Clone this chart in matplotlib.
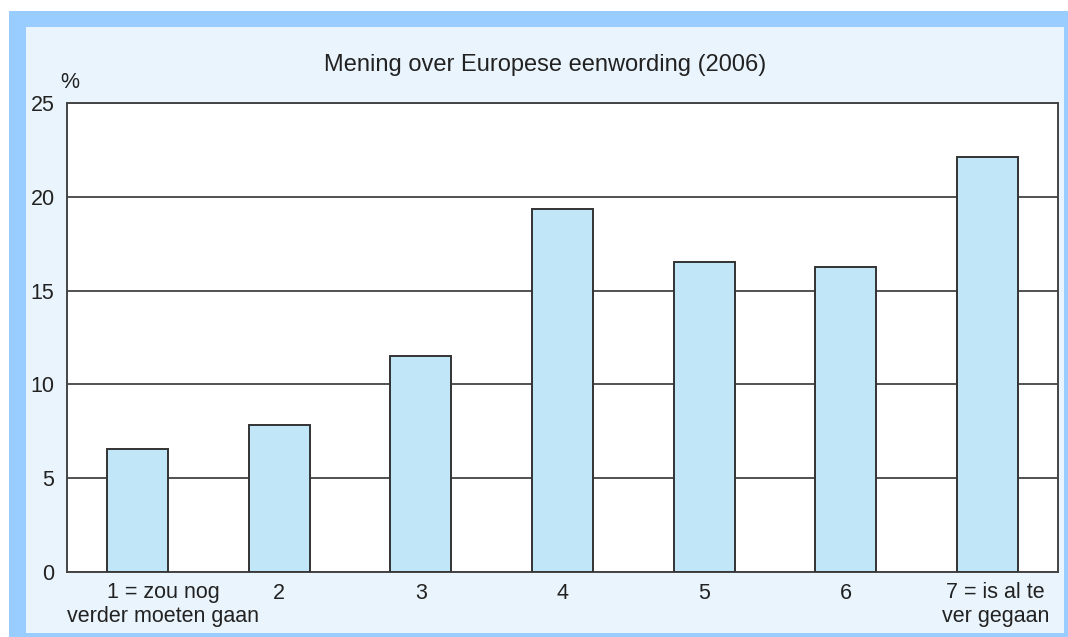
import numpy as np
import matplotlib
matplotlib.use("Agg")
import matplotlib.pyplot as plt
from matplotlib.patches import Rectangle

plt.rcParams['font.family'] = ['Liberation Sans', 'DejaVu Sans']

title = "Mening over Europese eenwording (2006)"
categories = ["1 = zou nog\nverder moeten gaan", "2", "3", "4", "5", "6", "7 = is al te\nver gegaan"]
values = [6.56, 7.84, 11.5, 19.35, 16.52, 16.26, 22.1]
yticks = [0, 5, 10, 15, 20, 25]

W, H = 1068, 637
fs = 15.5
fig = plt.figure(figsize=(W / 100, H / 100), dpi=100)
fig.patch.set_facecolor("white")

# blue frame + light inner panel
fig.patches.append(Rectangle((9 / W, 0), (W - 9) / W, (H - 11) / H,
                             transform=fig.transFigure, facecolor="#99ccff", edgecolor="none", zorder=-10))
fig.patches.append(Rectangle((26 / W, 4 / H), (1064 - 26) / W, (633 - 27) / H,
                             transform=fig.transFigure, facecolor="#e9f4fc", edgecolor="none", zorder=-9))

ax = fig.add_axes([67 / W, 65 / H, 991 / W, 469 / H])
x = np.arange(len(categories))
ax.bar(x, values, width=0.43, color="#c1e6f8", edgecolor="#333333", linewidth=1.4, zorder=3)

ax.set_xlim(-0.5, len(categories) - 0.5)
ax.set_ylim(0, 25)
ax.set_yticks(yticks)
ax.grid(axis="y", color="#333333", linewidth=1.2, zorder=1)
ax.set_axisbelow(True)
for s in ax.spines.values():
    s.set_color("#444444")
    s.set_linewidth(1.4)

ax.tick_params(axis="y", length=0, pad=9, labelsize=fs, labelcolor="#222222")
ax.set_xticks(x[1:-1])
ax.set_xticklabels(categories[1:-1])
ax.tick_params(axis="x", length=0, pad=8, labelsize=fs, labelcolor="#222222")

# the end labels sit a bit off-centre under their bars
trans = ax.get_xaxis_transform()
ax.text(0.18, -0.022, categories[0], transform=trans, ha="center", va="top",
        fontsize=fs, color="#222222", linespacing=1.15)
ax.text(6.06, -0.022, categories[-1], transform=trans, ha="center", va="top",
        fontsize=fs, color="#222222", linespacing=1.15)

fig.text(545 / W, 1 - 65 / H, title, ha="center", va="center", fontsize=17, color="#222222")
fig.text(70 / W, 1 - 82 / H, "%", ha="center", va="center", fontsize=fs, color="#222222")

fig.savefig("out.png", dpi=100)
